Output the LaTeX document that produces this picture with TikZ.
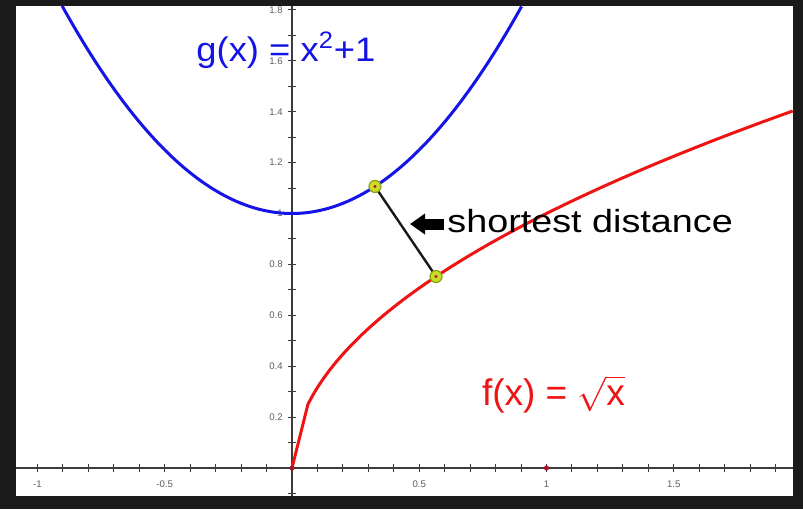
\documentclass[tikz,border=0pt]{standalone}
\usepackage{fontspec}
\usepackage{graphicx}
\setmainfont{Liberation Sans}
\usetikzlibrary{arrows.meta, positioning}
\definecolor{clrFrame}{HTML}{1A1A1A}
\definecolor{clrAxis}{HTML}{3C3C3C}
\definecolor{clrTick}{HTML}{5E5E5E}
\definecolor{clrG}{HTML}{1414E6}
\definecolor{clrF}{HTML}{EE1414}
\definecolor{clrPt}{HTML}{C8DC28}
\definecolor{clrPtEdge}{HTML}{8CA014}
\definecolor{clrDot}{HTML}{A8142A}

\begin{document}
\begin{tikzpicture}[x=127.25pt, y=127.25pt,
    axis/.style={clrAxis, line width=0.6pt},
    tickmark/.style={clrAxis, line width=0.5pt},
    xlbl/.style={font=\fontsize{4.8}{5.5}\selectfont, text=clrTick, inner sep=0pt, anchor=north, yshift=-6pt},
    ylbl/.style={font=\fontsize{4.8}{5.5}\selectfont, text=clrTick, inner sep=0pt, anchor=east, xshift=-4.5pt},
    curve/.style={line width=1.5pt, line join=round},
    pt/.style={circle, draw=clrPtEdge, fill=clrPt, line width=0.6pt, minimum size=6pt, inner sep=0pt},
    axisdot/.style={circle, fill=clrDot, minimum size=2.6pt, inner sep=0pt},
    seg/.style={line width=1.2pt, black!90},
    blockarrow/.style={-{Triangle[length=7.5pt, width=10pt]}, line width=5.5pt, black},
    lbl/.style={inner sep=0pt, anchor=base west},
]

% frame and plot area
\fill[clrFrame] (-1.14735,-0.16110) rectangle (2.00786,1.83890);
\fill[white] (-1.08448,-0.11002) rectangle (1.96857,1.81532);

% axes with ticks
\draw[axis] (-1.08448,0) -- (1.96857,0);
\draw[axis] (0,-0.11002) -- (0,1.81532);
\foreach \i in {-10,...,-1,1,2,...,19}
  \draw[tickmark] (\i/10,-0.016) -- (\i/10,0.016);
\foreach \i in {-1,1,2,...,18}
  \draw[tickmark] (-0.016,\i/10) -- (0.016,\i/10);
\foreach \v [count=\k] in {-1,-0.5,0.5,1,1.5}
  \node[xlbl] (xl\k) at (\v,0) {\v};
\foreach \v [count=\k] in {0.2,0.4,0.6,0.8,1,1.2,1.4,1.6,1.8}
  \node[ylbl] (yl\k) at (0,\v) {\v};

% the two curves
\draw[curve, clrG] plot[domain=-0.903:0.903, samples=120, smooth] (\x,{\x*\x+1});
\draw[curve, clrF] (0,0) -- (0.0625,0.25) -- plot[domain=0.0625:1.9686, samples=120, smooth] (\x,{sqrt(\x)});

\node[axisdot] (o) at (0,0) {};
\node[axisdot] (one) at (1,0) {};

% closest pair
\coordinate (p) at (0.326,{0.326*0.326+1});
\coordinate (q) at (0.566,{sqrt(0.566)});
\draw[seg] (p) -- (q);
\node[pt] (pg) at (p) {};
\node[pt] (qf) at (q) {};
\fill[clrDot] (pg.center) circle (0.8pt);
\fill[clrDot] (qf.center) circle (0.8pt);

% labels
\node[lbl, text=clrG, font=\fontsize{17}{20}\selectfont] (glbl) at (-0.377,1.599) {\scalebox{1.07}[1]{g(x) = x\textsuperscript{2}+1}};
\node[lbl, font=\fontsize{16}{19}\selectfont] (sd) at (0.609,0.926) {\scalebox{1.18}[1]{shortest distance}};
\node[lbl, text=clrF, font=\fontsize{18.5}{22}\selectfont] (flbl) at (0.745,0.2475) {f(x) = $\sqrt{\mbox{x}}$};

\coordinate (tip) at (0.4637,0.9587);
\draw[blockarrow] ([xshift=-1.5pt]sd.west |- tip) -- (tip);

\end{tikzpicture}
\end{document}
